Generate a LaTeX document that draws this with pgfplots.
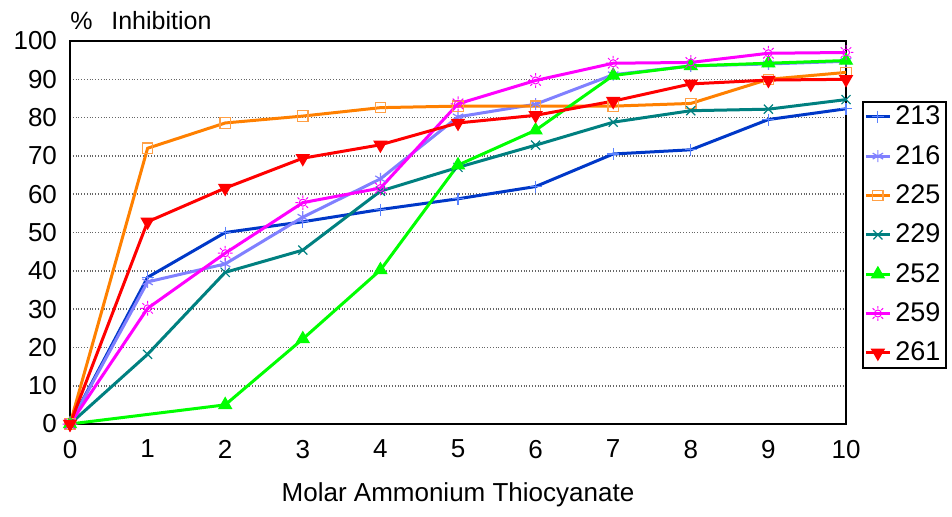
\documentclass[border=0pt]{standalone}
\usepackage{fontspec}
\setmainfont{Liberation Sans}
\usepackage{pgfplots}
\pgfplotsset{compat=1.18}
\definecolor{c213}{RGB}{0,56,200}
\definecolor{m213}{RGB}{90,130,255}
\definecolor{c216}{RGB}{128,128,255}
\definecolor{c225}{RGB}{255,128,0}
\definecolor{m225}{RGB}{255,160,70}
\definecolor{c229}{RGB}{0,128,128}
\definecolor{c252}{RGB}{0,255,0}
\definecolor{c259}{RGB}{255,0,255}
\definecolor{c261}{RGB}{255,0,0}
\pgfdeclareplotmark{sun}{%
  \pgfpathcircle{\pgfpoint{0pt}{0pt}}{0.55\pgfplotmarksize}%
  \foreach \a in {0,45,...,315}{%
    \pgfpathmoveto{\pgfpointpolar{\a}{0.75\pgfplotmarksize}}%
    \pgfpathlineto{\pgfpointpolar{\a}{1.15\pgfplotmarksize}}%
  }%
  \pgfusepathqstroke}
\begin{document}
\begin{tikzpicture}
\begin{axis}[
  scale only axis, width=388pt, height=191.5pt,
  xmin=0, xmax=10, ymin=0, ymax=100,
  xtick={0,1,...,10}, ytick={0,10,...,100},
  major tick length=0pt,
  axis line style={line width=1pt, black},
  ymajorgrids, grid style={densely dotted, gray!80!black, line width=0.8pt},
  clip=false,
  /pgf/number format/assume math mode=true,
  tick label style={font=\fontsize{13}{15}\selectfont},
  xticklabel style={yshift=-4.5pt},
  yticklabel style={xshift=-3pt},
  xlabel={Molar Ammonium Thiocyanate},
  xlabel style={font=\fontsize{13}{15}\selectfont, at={(rel axis cs:0.5,0)}, anchor=north, yshift=-26pt},
  ylabel={\%\hspace{0.75em}Inhibition},
  ylabel style={font=\fontsize{12.5}{15}\selectfont, rotate=-90, at={(rel axis cs:0,1)}, anchor=south west, inner sep=0pt, yshift=5.5pt},
  legend style={at={(rel axis cs:1.0206,0.8433)}, anchor=north west, draw=black, line width=0.8pt,
    font=\fontsize{13.5}{15}\selectfont, cells={anchor=west}, row sep=4.75pt, inner xsep=0.8pt, inner ysep=0pt},
  legend image code/.code={\draw[mark repeat=2,mark phase=2] plot coordinates {(0pt,0pt) (6pt,0pt) (12pt,0pt)};},
  every axis plot/.append style={line width=1.5pt},
]
\addplot[c213, mark=+, mark size=3pt, mark options={m213, line width=0.6pt}] coordinates {
(0,0) (1,38.3) (2,50) (3,52.8) (4,56) (5,58.8) (6,62) (7,70.5) (8,71.6) (9,79.5) (10,82.3)};
\addlegendentry{213}
\addplot[c216, mark=asterisk, mark size=3pt, mark options={line width=0.6pt}] coordinates {
(0,0) (1,37.1) (2,41.8) (3,54) (4,64) (5,80.2) (6,83.5) (7,91.2) (8,93.5) (9,94) (10,94.7)};
\addlegendentry{216}
\addplot[c225, mark=square, mark size=2.6pt, mark options={m225, line width=0.6pt}] coordinates {
(0,0) (1,72) (2,78.6) (3,80.4) (4,82.6) (5,83) (6,83) (7,83) (8,83.7) (9,90) (10,91.8)};
\addlegendentry{225}
\addplot[c229, mark=x, mark size=3.2pt, mark options={line width=0.6pt}] coordinates {
(0,0) (1,18.2) (2,39.6) (3,45.4) (4,60.8) (5,67) (6,72.8) (7,78.8) (8,81.8) (9,82.2) (10,84.7)};
\addlegendentry{229}
\addplot[c252, mark=triangle*, mark size=3.6pt, mark options={line width=0.6pt}] coordinates {
(0,0) (2,5) (3,22.2) (4,40.2) (5,67.6) (6,76.7) (7,91) (8,93.5) (9,94.2) (10,94.9)};
\addlegendentry{252}
\addplot[c259, mark=sun, mark size=3.2pt, mark options={line width=0.5pt}] coordinates {
(0,0) (1,30.2) (2,44.6) (3,57.8) (4,61.6) (5,83.6) (6,89.7) (7,94.2) (8,94.4) (9,96.8) (10,97)};
\addlegendentry{259}
\addplot[c261, mark=triangle*, mark size=3.6pt, mark options={rotate=180, line width=0.6pt}] coordinates {
(0,0) (1,52.8) (2,61.6) (3,69.4) (4,72.9) (5,78.6) (6,80.6) (7,84.3) (8,88.8) (9,89.8) (10,90)};
\addlegendentry{261}
\end{axis}
\path (current axis.south west) ++(-35pt,-46pt) rectangle ++(476pt,258pt);
\end{tikzpicture}
\end{document}
